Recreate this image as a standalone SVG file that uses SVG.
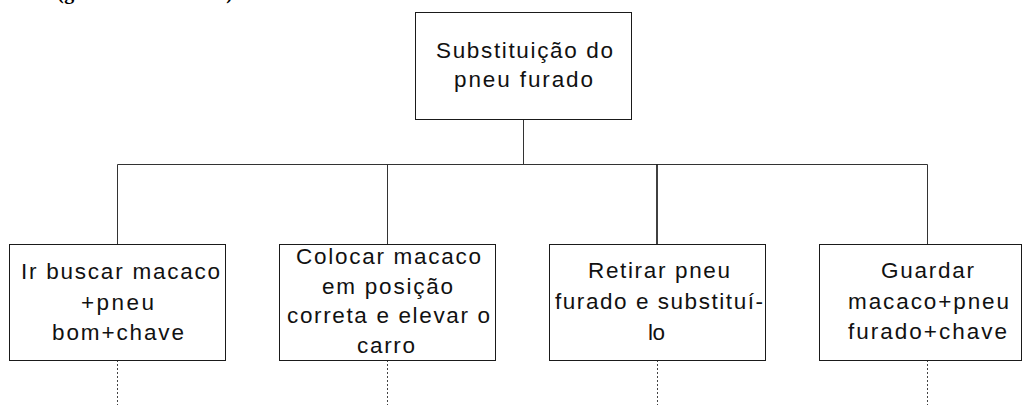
<svg xmlns="http://www.w3.org/2000/svg" width="1023" height="405" viewBox="0 0 1023 405">
  <style>
    .box { fill: #ffffff; stroke: #1a1a1a; stroke-width: 1; }
    .lbl { font-family: "Liberation Sans", Arial, sans-serif; font-size: 22.5px; fill: #111111; }
    .conn { stroke: #333333; stroke-width: 1; fill: none; }
    .dash { stroke: #444444; stroke-width: 1; stroke-dasharray: 2 2; fill: none; }
    .cap { font-family: "Liberation Serif", "Times New Roman", serif; font-size: 20px; font-weight: bold; fill: #000000; }
  </style>
  <rect width="1023" height="405" fill="#ffffff"/>

  <text class="cap" x="57" y="-1" textLength="176" lengthAdjust="spacing">(gráfico em árvore)</text>

  <g id="connectors">
    <line class="conn" x1="523.5" y1="119" x2="523.5" y2="164.5"/>
    <line class="conn" x1="117.5" y1="164.5" x2="927.5" y2="164.5"/>
    <line class="conn" x1="117.5" y1="164.5" x2="117.5" y2="244"/>
    <line class="conn" x1="387.5" y1="164.5" x2="387.5" y2="244"/>
    <line class="conn" x1="657" y1="164.5" x2="657" y2="244" style="stroke-width:1.6;stroke:#111"/>
    <line class="conn" x1="927.5" y1="164.5" x2="927.5" y2="244"/>
    <line class="dash" x1="117.5" y1="360" x2="117.5" y2="405"/>
    <line class="dash" x1="387.5" y1="360" x2="387.5" y2="405"/>
    <line class="dash" x1="657.5" y1="360" x2="657.5" y2="405"/>
    <line class="dash" x1="927.5" y1="360" x2="927.5" y2="405"/>
  </g>

  <g id="node-root">
    <rect class="box" x="415.5" y="12.5" width="216" height="107"/>
    <text class="lbl" x="436" y="58" textLength="177" lengthAdjust="spacing">Substituição do</text>
    <text class="lbl" x="454" y="87" textLength="139" lengthAdjust="spacing">pneu furado</text>
  </g>

  <g id="node-1">
    <rect class="box" x="9.5" y="244.5" width="216" height="116"/>
    <text class="lbl" x="21" y="279" textLength="199" lengthAdjust="spacing">Ir buscar macaco</text>
    <text class="lbl" x="81" y="309.5" textLength="73" lengthAdjust="spacing">+pneu</text>
    <text class="lbl" x="52" y="340" textLength="132" lengthAdjust="spacing">bom+chave</text>
  </g>

  <g id="node-2">
    <rect class="box" x="279.5" y="244.5" width="216" height="116"/>
    <text class="lbl" x="296" y="264" textLength="185" lengthAdjust="spacing">Colocar macaco</text>
    <text class="lbl" x="322" y="293.5" textLength="131" lengthAdjust="spacing">em posição</text>
    <text class="lbl" x="287" y="323" textLength="203" lengthAdjust="spacing">correta e elevar o</text>
    <text class="lbl" x="357" y="352.5" textLength="58" lengthAdjust="spacing">carro</text>
  </g>

  <g id="node-3">
    <rect class="box" x="549.5" y="244.5" width="216" height="116"/>
    <text class="lbl" x="588" y="278" textLength="142" lengthAdjust="spacing">Retirar pneu</text>
    <text class="lbl" x="555" y="309" textLength="208" lengthAdjust="spacing">furado e substituí-</text>
    <text class="lbl" x="648" y="339.5" textLength="17" lengthAdjust="spacing">lo</text>
  </g>

  <g id="node-4">
    <rect class="box" x="819.5" y="244.5" width="202" height="116"/>
    <text class="lbl" x="881" y="278" textLength="93" lengthAdjust="spacing">Guardar</text>
    <text class="lbl" x="848" y="309" textLength="161" lengthAdjust="spacing">macaco+pneu</text>
    <text class="lbl" x="848" y="339" textLength="159" lengthAdjust="spacing">furado+chave</text>
  </g>
</svg>
